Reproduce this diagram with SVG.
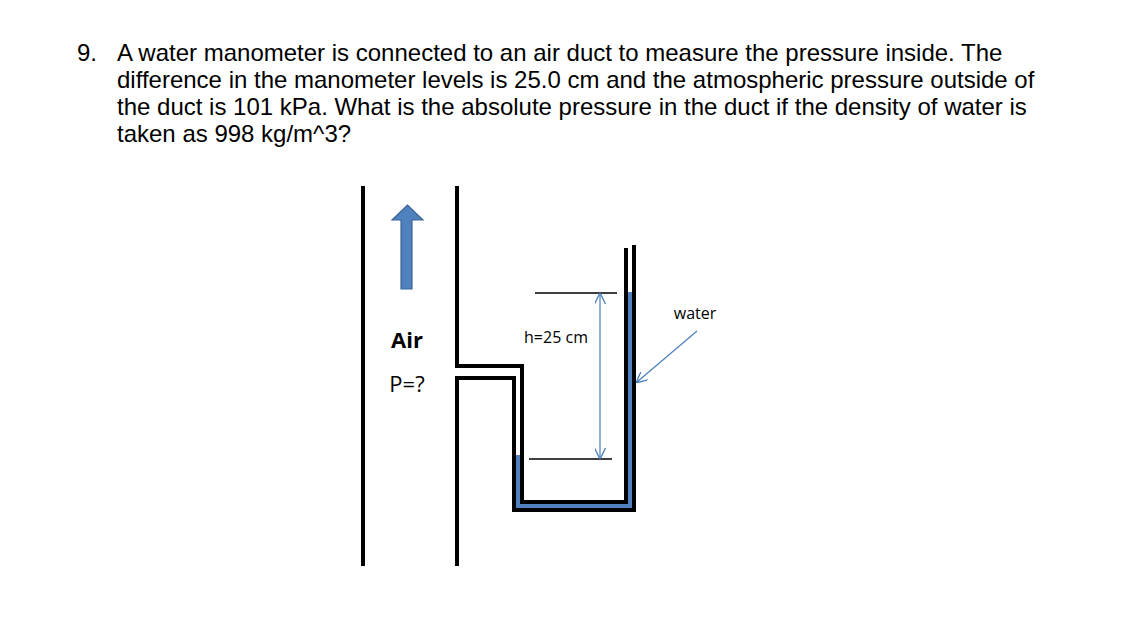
<svg xmlns="http://www.w3.org/2000/svg" width="1136" height="640" viewBox="0 0 1136 640">
<style>
.q{font-family:"Liberation Sans",Arial,sans-serif;font-size:24px;fill:#000}
.l{font-family:"Open Sans","Liberation Sans",sans-serif;fill:#000}
.w{fill:none;stroke:#000;stroke-width:4}
.t{stroke:#000;stroke-width:1.3}
.b{stroke:#4a7ebb;stroke-width:1.2;fill:none}
</style>
<defs>
<marker id="ah" viewBox="0 0 10 10" refX="9" refY="5" markerWidth="11" markerHeight="11" orient="auto-start-reverse" markerUnits="userSpaceOnUse"><path d="M0,0L10,5L0,10" fill="none" stroke="#4a7ebb" stroke-width="1.2"/></marker>
</defs>
<rect width="1136" height="640" fill="#fff"/>
<g id="question">
<text class="q" x="77" y="61">9.</text>
<text class="q" x="117" y="61">A water manometer is connected to an air duct to measure the pressure inside. The</text>
<text class="q" x="117" y="88">difference in the manometer levels is 25.0 cm and the atmospheric pressure outside of</text>
<text class="q" x="117" y="115">the duct is 101 kPa. What is the absolute pressure in the duct if the density of water is</text>
<text class="q" x="117" y="142">taken as 998 kg/m^3?</text>
</g>
<g id="water">
<rect x="514" y="455" width="8" height="55" fill="#4f81bd"/>
<rect x="514" y="502" width="121" height="8" fill="#4f81bd"/>
<rect x="625" y="292" width="10" height="218" fill="#4f81bd"/>
</g>
<g id="duct">
<line class="w" x1="363" y1="186" x2="363" y2="566"/>
<polyline class="w" points="457,186 457,366 522,366 522,502 626,502 626,248"/>
<polyline class="w" points="457,566 457,378 514,378 514,510 634,510 634,245"/>
</g>
<g id="flow-arrow">
<path d="M401,289V220H392L407.5,205L423,220H412V289Z" fill="#4f81bd" stroke="#3a6597" stroke-width="1.2"/>
</g>
<g id="labels">
<text class="l" x="407" y="348" font-size="22" font-weight="bold" text-anchor="middle">Air</text>
<text class="l" x="407" y="392" font-size="22" text-anchor="middle">P=?</text>
<text class="l" x="556" y="343" font-size="16" text-anchor="middle">h=25 cm</text>
<text class="l" x="695" y="319" font-size="16" text-anchor="middle">water</text>
</g>
<g id="connectors">
<line class="t" x1="535" y1="293" x2="617" y2="293"/>
<line class="t" x1="529" y1="459" x2="612" y2="459"/>
<line class="b" x1="600" y1="294" x2="600" y2="458" marker-start="url(#ah)" marker-end="url(#ah)"/>
<line class="b" x1="697" y1="331" x2="637" y2="382" marker-end="url(#ah)"/>
</g>
</svg>
